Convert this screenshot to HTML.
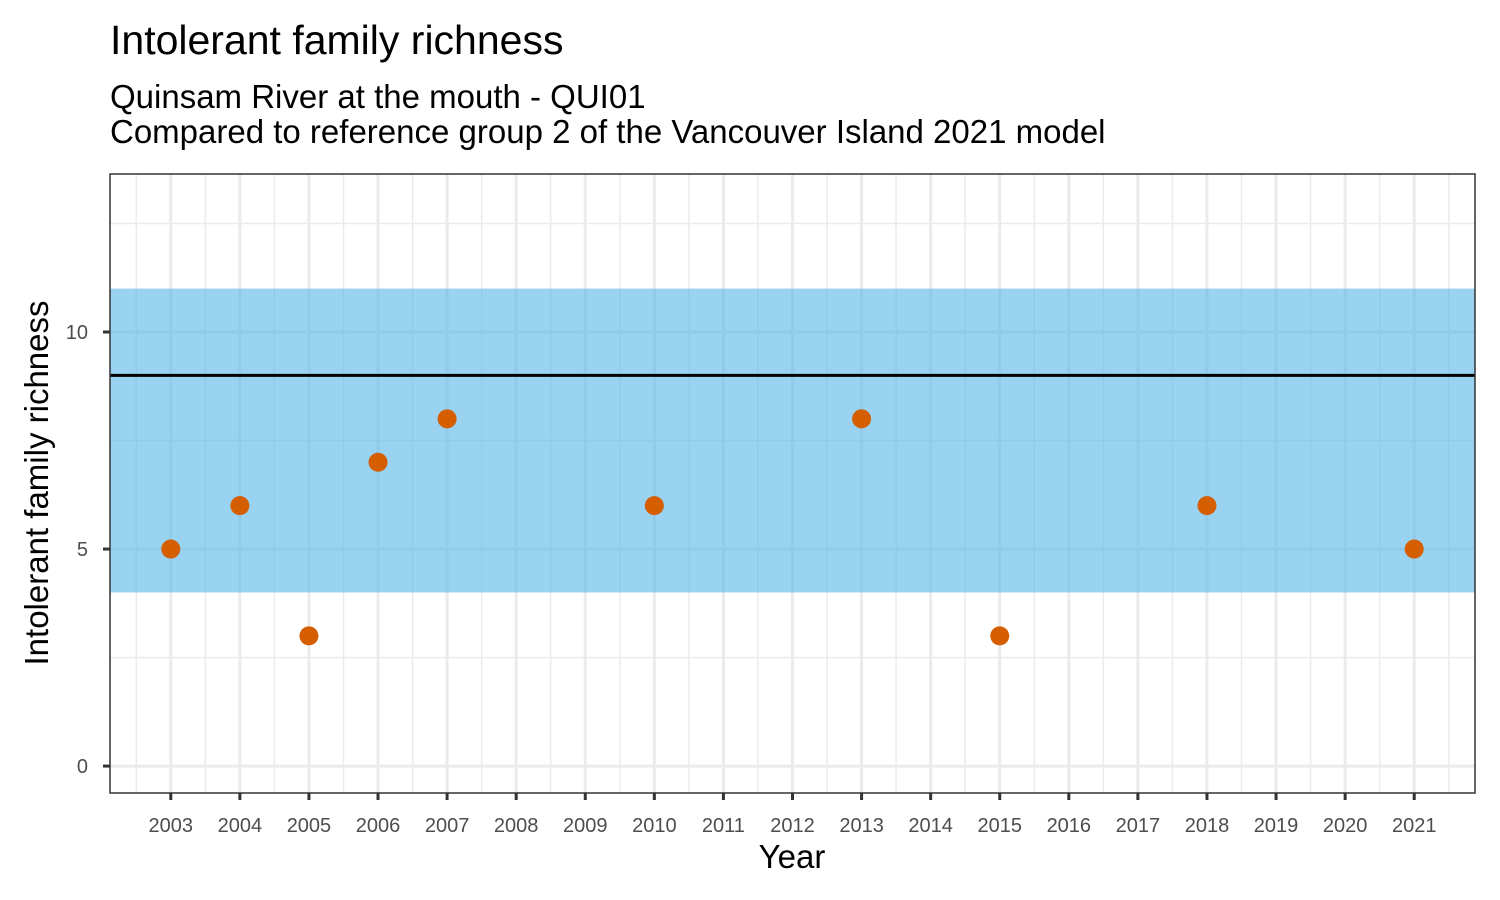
<!DOCTYPE html>
<html><head><meta charset="utf-8">
<style>
html,body{margin:0;padding:0;background:#fff;}
svg{display:block;font-family:"Liberation Sans",Arial,sans-serif;}
</style></head>
<body>
<svg id="chart" width="1500" height="900" viewBox="0 0 1500 900">
<text x="110" y="54" font-size="41" fill="#000">Intolerant family richness</text>
<text x="110" y="108" font-size="33" fill="#000">Quinsam River at the mouth - QUI01</text>
<text x="110" y="143" font-size="33" fill="#000">Compared to reference group 2 of the Vancouver Island 2021 model</text>
<g id="plot"></g>
<text x="792" y="868" font-size="33" text-anchor="middle" fill="#000">Year</text>
<text transform="translate(48,483) rotate(-90)" font-size="33" text-anchor="middle" fill="#000">Intolerant family richness</text>
</svg>
<script>
const years = [2003,2004,2005,2006,2007,2008,2009,2010,2011,2012,2013,2014,2015,2016,2017,2018,2019,2020,2021];
const sampleYears = [2003,2004,2005,2006,2007,2010,2013,2015,2018,2021];
const richness = [5,6,3,7,8,6,8,3,6,5];
const yTicks = [0,5,10];
const refMean = [9];
const refRange = [4,11];

const L=110,R=1475,T=174,B=793;
const xMin=2002.12,xMax=2021.88,yMin=-0.62,yMax=13.64;
const xs=v=>L+(v-xMin)/(xMax-xMin)*(R-L);
const ys=v=>B-(v-yMin)/(yMax-yMin)*(B-T);
const NS="http://www.w3.org/2000/svg";
const g=document.getElementById('plot');
function mk(tag,attrs,parent){const e=document.createElementNS(NS,tag);for(const k in attrs)e.setAttribute(k,attrs[k]);(parent||g).appendChild(e);return e;}

for(let i=0;i<=years.length;i++){
  const x=xs(years[0]-0.5+i);
  if(x>L&&x<R){const e=mk('line',{x1:x,x2:x,y1:T,y2:B,stroke:'#ebebeb','stroke-width':1.5});
  
  }
}
for(const v of [2.5,7.5,12.5]){
  const e=mk('line',{x1:L,x2:R,y1:ys(v),y2:ys(v),stroke:'#ebebeb','stroke-width':1.5});
  
  
}
years.forEach(yr=>{
  const e=mk('line',{x1:xs(yr),x2:xs(yr),y1:T,y2:B,stroke:'#ebebeb','stroke-width':3});
  
  
});
yTicks.forEach(v=>{
  const e=mk('line',{x1:L,x2:R,y1:ys(v),y2:ys(v),stroke:'#ebebeb','stroke-width':3});
  
  
});
const band=mk('rect',{x:L,y:ys(refRange[1]),width:R-L,height:ys(refRange[0])-ys(refRange[1]),fill:'#56B4E9','fill-opacity':0.6});


const ml=mk('line',{x1:L,x2:R,y1:ys(refMean[0]),y2:ys(refMean[0]),stroke:'#000','stroke-width':3});


sampleYears.forEach((yr,i)=>{
  const c=mk('circle',{cx:xs(yr),cy:ys(richness[i]),r:9.5,fill:'#D55E00'});
  
  
});
const bd=mk('rect',{x:L,y:T,width:R-L,height:B-T,fill:'none',stroke:'#333','stroke-width':1.5});


years.forEach(yr=>{
  const t=mk('line',{x1:xs(yr),x2:xs(yr),y1:B,y2:B+7,stroke:'#333','stroke-width':3});
  
  
  const l=mk('text',{x:xs(yr),y:832,'font-size':20,'text-anchor':'middle',fill:'#4d4d4d'});
  l.textContent=yr;
  
  
});
yTicks.forEach(v=>{
  const t=mk('line',{x1:L-7,x2:L,y1:ys(v),y2:ys(v),stroke:'#333','stroke-width':3});
  
  
  const l=mk('text',{x:L-22,y:ys(v)+7,'font-size':20,'text-anchor':'end',fill:'#4d4d4d'});
  l.textContent=v;
  
  
});
</script>
</body></html>
